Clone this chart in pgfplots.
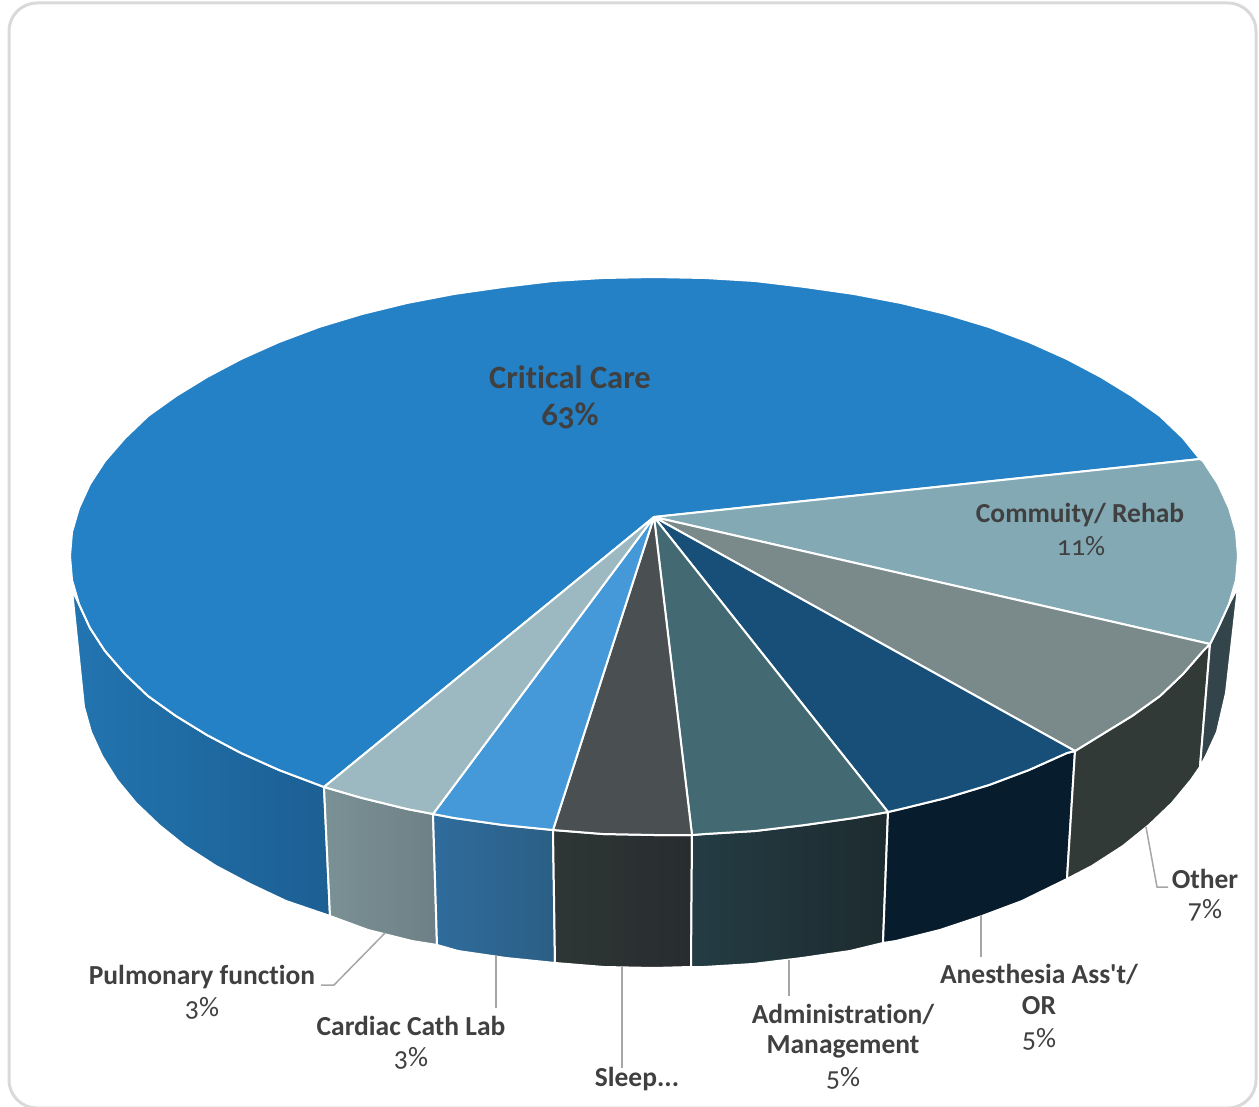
\documentclass[border=0pt]{standalone}
\usepackage{fontspec}
\setmainfont[Numbers=OldStyle,Ligatures={TeXOff,CommonOff}]{Carlito}
\usepackage{pgfplots}
\pgfplotsset{compat=1.18}

% top faces
\definecolor{crit}{HTML}{2481C6}
\definecolor{comm}{HTML}{82A9B4}
\definecolor{other}{HTML}{7A8A8B}
\definecolor{anes}{HTML}{174F78}
\definecolor{admin}{HTML}{436A72}
\definecolor{sleep}{HTML}{4A5052}
\definecolor{cath}{HTML}{4599D8}
\definecolor{pulm}{HTML}{9CB9C1}
% side walls
\definecolor{wcritA}{HTML}{2274B0}
\definecolor{wcritB}{HTML}{1C5F93}
\definecolor{wpulmA}{HTML}{7A9196}
\definecolor{wpulmB}{HTML}{6E8085}
\definecolor{wcathA}{HTML}{2F6C9C}
\definecolor{wcathB}{HTML}{2B5F85}
\definecolor{wsleepA}{HTML}{2E3735}
\definecolor{wsleepB}{HTML}{282C2F}
\definecolor{wadminA}{HTML}{243C44}
\definecolor{wadminB}{HTML}{1D2B2F}
\definecolor{wanes}{HTML}{071C2C}
\definecolor{wother}{HTML}{323A38}
\definecolor{wcomm}{HTML}{34444B}
\definecolor{txt}{HTML}{404040}
\definecolor{leader}{HTML}{A6A6A6}
\definecolor{frame}{HTML}{D9D9D9}

\tikzset{
  edge/.style={draw=white, line width=2pt, line join=round},
  lead/.style={draw=leader, line width=1.5pt},
  lab/.style={text=txt, font=\fontsize{27.5}{32}\selectfont\bfseries, inner sep=0pt, align=center},
  pct/.style={text=txt, font=\fontsize{28}{32}\selectfont, inner sep=0pt},
}

\begin{document}
\begin{tikzpicture}
\begin{axis}[
  name=ax,
  hide axis,
  scale only axis,
  width=1259pt,
  height=1107pt,
  xmin=0, xmax=1259,
  ymin=0, ymax=1107,
  y dir=reverse,
  no markers,
]
\draw[frame, line width=3pt, rounded corners=28pt]
  (axis cs:9,3) rectangle (axis cs:1256,1108);

% side walls
\addplot[edge, left color=wcritA, right color=wcritB] coordinates {
  (324,787)(279,770)(241,753)(207,735)(176,716)(148,696)(125,674)(105,651)(90,628)(79,604)(72,590)
  (84,707)(91,732)(102,756)(117,780)(136,803)(159,825)(185,846)(216,866)(250,884)(286,901)(330,916)} -- cycle;
\addplot[edge, left color=wpulmA, right color=wpulmB] coordinates {
  (324,787)(362,798)(407,809)(433,814)(437,945)(412,941)(368,930)(330,916)} -- cycle;
\addplot[edge, left color=wcathA, right color=wcathB] coordinates {
  (433,814)(454,818)(503,825)(553,830)(555,963)(506,958)(458,951)(437,945)} -- cycle;
\addplot[edge, left color=wsleepA, right color=wsleepB] coordinates {
  (553,830)(603,834)(654,835)(692,835)(691,967)(654,968)(604,967)(555,963)} -- cycle;
\addplot[edge, left color=wadminA, right color=wadminB] coordinates {
  (692,835)(705,834)(755,831)(805,825)(854,818)(888,812)(883,943)(850,951)(802,958)(753,964)(704,967)(691,967)} -- cycle;
\addplot[edge, fill=wanes] coordinates {
  (888,812)(901,809)(946,798)(989,785)(1029,770)(1067,753)(1075,751)(1067,879)(1022,901)(982,916)(940,930)(896,941)(883,943)} -- cycle;
\addplot[edge, fill=wother] coordinates {
  (1075,751)(1101,735)(1132,716)(1160,696)(1183,674)(1203,651)(1210,644)(1200,767)(1191,780)(1172,803)(1149,825)(1123,846)(1092,866)(1067,879)} -- cycle;
\addplot[edge, fill=wcomm] coordinates {
  (1210,644)(1218,628)(1229,604)(1238,587)(1226,693)(1217,732)(1206,756)(1200,767)} -- cycle;

% top faces
\addplot[edge, fill=crit] coordinates {
  (654,517)(1200,459)(1183,438)(1160,416)(1132,396)(1101,377)(1067,359)(1029,342)(989,327)(946,314)(901,303)(854,294)
  (805,287)(755,281)(705,278)(654,277)(603,278)(553,281)(503,287)(454,294)(407,303)(362,314)(319,327)(279,342)
  (241,359)(207,377)(176,396)(148,416)(125,438)(105,461)(90,484)(79,508)(72,532)(70,556)(72,580)(79,604)(90,628)
  (105,651)(125,674)(148,696)(176,716)(207,735)(241,753)(279,770)(324,787)} -- cycle;
\addplot[edge, fill=comm] coordinates {
  (654,517)(1210,644)(1218,628)(1229,604)(1236,580)(1238,556)(1236,532)(1229,508)(1218,484)(1203,461)(1200,459)} -- cycle;
\addplot[edge, fill=other] coordinates {
  (654,517)(1075,751)(1101,735)(1132,716)(1160,696)(1183,674)(1203,651)(1210,644)} -- cycle;
\addplot[edge, fill=anes] coordinates {
  (654,517)(888,812)(901,809)(946,798)(989,785)(1029,770)(1067,753)(1075,751)} -- cycle;
\addplot[edge, fill=admin] coordinates {
  (654,517)(692,835)(705,834)(755,831)(805,825)(854,818)(888,812)} -- cycle;
\addplot[edge, fill=sleep] coordinates {
  (654,517)(553,830)(603,834)(654,835)(692,835)} -- cycle;
\addplot[edge, fill=cath] coordinates {
  (654,517)(433,814)(454,818)(503,825)(553,830)} -- cycle;
\addplot[edge, fill=pulm] coordinates {
  (654,517)(324,787)(362,798)(407,809)(433,814)} -- cycle;

% leader lines
\addplot[lead] coordinates {(385,933)(334,985)(321,985)};
\addplot[lead] coordinates {(496,955)(496,1008)};
\addplot[lead] coordinates {(622,967)(622,1068)};
\addplot[lead] coordinates {(789,960)(789,996)};
\addplot[lead] coordinates {(981,915)(981,957)};
\addplot[lead] coordinates {(1146,827)(1157,887)(1168,887)};

% labels
\node[lab, font=\fontsize{32.5}{36}\selectfont\bfseries] at (axis cs:570,377) {Critical Care};
\node[lab, font=\fontsize{33}{36}\selectfont\bfseries] at (axis cs:570,416) {63\%};
\node[lab] at (axis cs:1080,515) {Commuity/ Rehab};
\node[pct] at (axis cs:1081,546) {11\%};
\node[lab] at (axis cs:1205,879) {Other};
\node[pct] at (axis cs:1205,910) {7\%};
\node[lab] at (axis cs:1039,974) {Anesthesia Ass't/};
\node[lab] at (axis cs:1039,1006) {OR};
\node[pct] at (axis cs:1039,1039) {5\%};
\node[lab] at (axis cs:843,1014) {Administration/};
\node[lab] at (axis cs:843,1047) {Management};
\node[pct] at (axis cs:843,1078) {5\%};
\node[lab] at (axis cs:637,1079) {Sleep...};
\node[lab] at (axis cs:411,1026) {Cardiac Cath Lab};
\node[pct] at (axis cs:411,1058) {3\%};
\node[lab] at (axis cs:202,977) {Pulmonary function};
\node[pct] at (axis cs:202,1008) {3\%};
\end{axis}
\pgfresetboundingbox
\path[use as bounding box] (ax.south west) rectangle (ax.north east);
\end{tikzpicture}
\end{document}
